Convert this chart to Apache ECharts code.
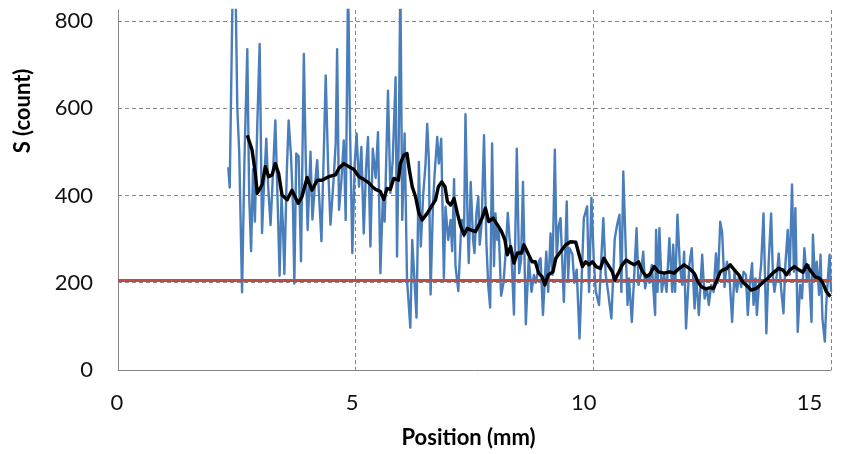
<!DOCTYPE html>
<html>
<head>
<meta charset="utf-8">
<script src="https://cdn.jsdelivr.net/npm/echarts@6/dist/echarts.min.js"></script>
<style>
html,body{margin:0;padding:0;background:#fff;}
#chart{width:844px;height:454px;}
</style>
</head>
<body>
<div id="chart"></div>
<script>
// Raw signal S (count) vs position (mm)
const blueX = [2.32,2.35,2.41,2.47,2.51,2.55,2.61,2.66,2.72,2.76,2.80,2.84,2.88,2.93,2.98,3.03,3.07,3.12,3.16,3.21,3.26,3.31,3.36,3.40,3.44,3.47,3.50,3.55,3.59,3.64,3.68,3.71,3.75,3.80,3.85,3.91,3.95,3.99,4.05,4.09,4.14,4.19,4.24,4.28,4.33,4.37,4.42,4.47,4.54,4.58,4.61,4.65,4.70,4.75,4.79,4.84,4.88,4.93,4.98,5.02,5.07,5.12,5.17,5.22,5.26,5.31,5.36,5.42,5.47,5.52,5.57,5.61,5.68,5.73,5.78,5.84,5.87,5.91,5.94,5.98,6.03,6.08,6.15,6.19,6.24,6.28,6.33,6.37,6.42,6.47,6.505,6.54,6.576,6.625,6.66,6.716,6.75,6.80,6.856,6.89,6.947,6.997,7.03,7.07,7.10,7.16,7.21,7.24,7.28,7.31,7.36,7.38,7.42,7.47,7.50,7.54,7.58,7.61,7.65,7.70,7.75,7.79,7.83,7.87,7.91,7.94,7.98,8.01,8.06,8.11,8.155,8.20,8.24,8.28,8.33,8.39,8.44,8.48,8.52,8.58,8.64,8.70,8.75,8.79,8.82,8.86,8.89,8.94,9.01,9.05,9.10,9.14,9.19,9.23,9.27,9.31,9.38,9.44,9.47,9.50,9.56,9.60,9.65,9.71,9.80,9.87,9.91,9.96,10.01,10.05,10.12,10.21,10.26,10.31,10.38,10.45,10.50,10.55,10.59,10.63,10.72,10.75,10.81,10.86,10.91,10.95,11.00,11.05,11.09,11.14,11.18,11.23,11.30,11.32,11.35,11.39,11.44,11.49,11.54,11.60,11.66,11.68,11.72,11.77,11.82,11.87,11.91,11.95,12.02,12.07,12.13,12.16,12.22,12.29,12.34,12.39,12.43,12.48,12.53,12.58,12.62,12.67,12.71,12.76,12.81,12.86,12.92,12.97,13.02,13.07,13.11,13.16,13.21,13.25,13.29,13.34,13.37,13.41,13.44,13.48,13.53,13.58,13.64,13.69,13.74,13.78,13.81,13.86,13.90,13.95,14.00,14.04,14.09,14.13,14.18,14.22,14.25,14.30,14.35,14.39,14.44,14.49,14.53,14.59,14.62,14.66,14.70,14.75,14.78,14.82,14.87,14.90,14.94,14.97,15.00];
const blueY = [465,418,860,900,600,500,178,480,735,400,272,460,340,560,747,314,420,530,420,332,450,572,380,216,400,330,220,450,572,490,380,198,496,490,249,724,480,321,500,345,420,481,380,295,500,675,466,333,443,520,735,367,435,526,344,900,560,268,473,542,420,511,313,466,534,283,507,440,545,222,390,340,640,406,481,671,260,560,900,344,542,207,97,298,200,120,477,283,400,473,564,481,173,374,447,534,473,530,211,374,298,344,272,437,238,181,306,344,306,586,314,245,431,298,268,359,397,287,336,538,291,192,143,519,238,359,298,321,170,200,268,360,298,260,127,507,222,253,431,105,256,179,218,200,218,250,256,126,271,179,313,218,505,256,330,348,156,386,210,279,265,200,230,72,348,375,179,394,250,180,149,348,218,179,118,300,333,356,179,455,149,210,110,218,325,195,218,271,187,218,200,241,126,321,179,325,179,218,179,302,179,287,179,356,241,195,271,95,241,279,141,218,126,264,164,187,149,195,179,267,200,340,315,190,248,225,110,225,179,218,190,225,218,126,195,245,149,210,126,187,241,359,84,250,359,210,179,218,267,187,130,241,321,218,425,225,371,87,195,164,279,210,241,110,310,210,248,172,264,118,65,149,218,264,179];

// Moving average of S
const avgX = [2.72,2.82,2.89,2.93,3.03,3.10,3.17,3.24,3.31,3.38,3.45,3.56,3.66,3.79,3.87,3.98,4.08,4.19,4.29,4.43,4.575,4.645,4.75,4.86,4.96,5.07,5.17,5.28,5.35,5.42,5.52,5.59,5.66,5.73,5.80,5.90,5.94,6.01,6.08,6.13,6.19,6.26,6.33,6.40,6.505,6.61,6.68,6.74,6.81,6.88,6.93,7.00,7.07,7.14,7.21,7.28,7.35,7.42,7.52,7.61,7.66,7.73,7.80,7.89,7.98,8.07,8.14,8.19,8.26,8.33,8.40,8.49,8.54,8.57,8.64,8.71,8.78,8.85,8.92,8.98,9.05,9.15,9.21,9.31,9.42,9.52,9.63,9.70,9.77,9.84,9.91,9.98,10.06,10.15,10.22,10.31,10.40,10.45,10.54,10.61,10.69,10.79,10.86,10.95,11.02,11.11,11.18,11.28,11.37,11.49,11.60,11.70,11.81,11.91,12.02,12.12,12.20,12.27,12.37,12.46,12.53,12.60,12.67,12.72,12.81,12.88,12.97,13.06,13.14,13.25,13.32,13.43,13.51,13.60,13.67,13.74,13.81,13.90,13.99,14.06,14.13,14.23,14.33,14.41,14.49,14.56,14.66,14.76,14.83,14.90,14.99];
const avgY = [538,504,450,405,424,466,443,447,473,450,401,390,412,382,397,441,412,435,435,443,447,462,473,466,460,443,437,429,420,414,409,391,416,414,439,435,473,492,496,458,420,397,359,344,359,378,390,420,431,420,386,378,393,359,329,310,325,321,317,336,348,371,340,348,333,317,298,264,283,245,268,268,287,290,264,248,248,222,214,195,218,225,256,271,287,294,293,264,237,248,241,248,237,233,256,241,225,206,225,241,252,245,241,248,229,214,218,237,225,222,225,222,233,241,233,222,202,191,186,189,187,206,225,229,233,241,229,218,202,191,183,187,195,204,210,218,225,233,229,218,229,237,229,224,241,229,214,210,199,180,168];

// Reference level
const levelX = [0, 15];
const levelY = [205, 205];

// Axis settings
const xTicks = [0, 5, 10, 15];
const yTicks = [0, 200, 400, 600, 800];

const zip = (xs, ys) => xs.map((x, i) => [x, ys[i]]);

const FONT = 'Lato';
const xShift = {0: 2, 5: 7, 10: 19, 15: 43};
const rich = {};
xTicks.forEach(t => {
  rich['l' + t] = {fontFamily: FONT, fontSize: 22, color: '#111', padding: [0, xShift[t], 0, 0]};
});

const chart = echarts.init(document.getElementById('chart'), null, {renderer: 'canvas'});
chart.setOption({
  animation: false,
  backgroundColor: '#fff',
  grid: {left: 118, right: 13, top: 10, bottom: 82, containLabel: false},
  xAxis: {
    type: 'value', min: xTicks[0], max: xTicks[xTicks.length - 1], interval: 5,
    name: 'Position (mm)', nameLocation: 'middle', nameGap: 57,
    nameTextStyle: {fontFamily: FONT, fontWeight: 'bold', fontSize: 22, color: '#000', padding: [0, 12, 0, 0]},
    axisLine: {show: true, onZero: false, lineStyle: {color: '#868686', width: 1}},
    axisTick: {show: false},
    axisLabel: {margin: 22, formatter: v => '{l' + v + '|' + v + '}', rich: rich, fontFamily: FONT, fontSize: 22, color: '#111'},
    splitLine: {show: true, showMinLine: false, showMaxLine: true, lineStyle: {color: '#868686', type: [4, 3], width: 1}}
  },
  yAxis: {
    type: 'value', min: yTicks[0], max: 825, interval: 200,
    name: 'S (count)', nameLocation: 'middle', nameGap: 84, nameRotate: 90,
    nameTextStyle: {fontFamily: FONT, fontWeight: 'bold', fontSize: 22, color: '#000', padding: [0, 0, 0, 158]},
    axisLine: {show: true, onZero: false, lineStyle: {color: '#868686', width: 1}},
    axisTick: {show: false},
    axisLabel: {margin: 25, showMaxLabel: false, fontFamily: FONT, fontSize: 22, color: '#111'},
    splitLine: {show: true, showMinLine: false, showMaxLine: false, lineStyle: {color: '#868686', type: [4, 3], width: 1}}
  },
  series: [
    {
      type: 'line', name: 'S', data: zip(blueX, blueY), showSymbol: false, symbol: 'none', clip: true,
      lineStyle: {color: '#4A7EBB', width: 2.4, join: 'round'}, z: 2
    },
    {
      type: 'line', name: 'level', data: zip(levelX, levelY), showSymbol: false, symbol: 'none', clip: true,
      lineStyle: {color: '#BE4B48', width: 3}, z: 3
    },
    {
      type: 'line', name: 'average', data: zip(avgX, avgY), showSymbol: false, symbol: 'none', clip: true,
      lineStyle: {color: '#000', width: 3.4, join: 'round'}, z: 4
    }
  ]
});
</script>
</body>
</html>
